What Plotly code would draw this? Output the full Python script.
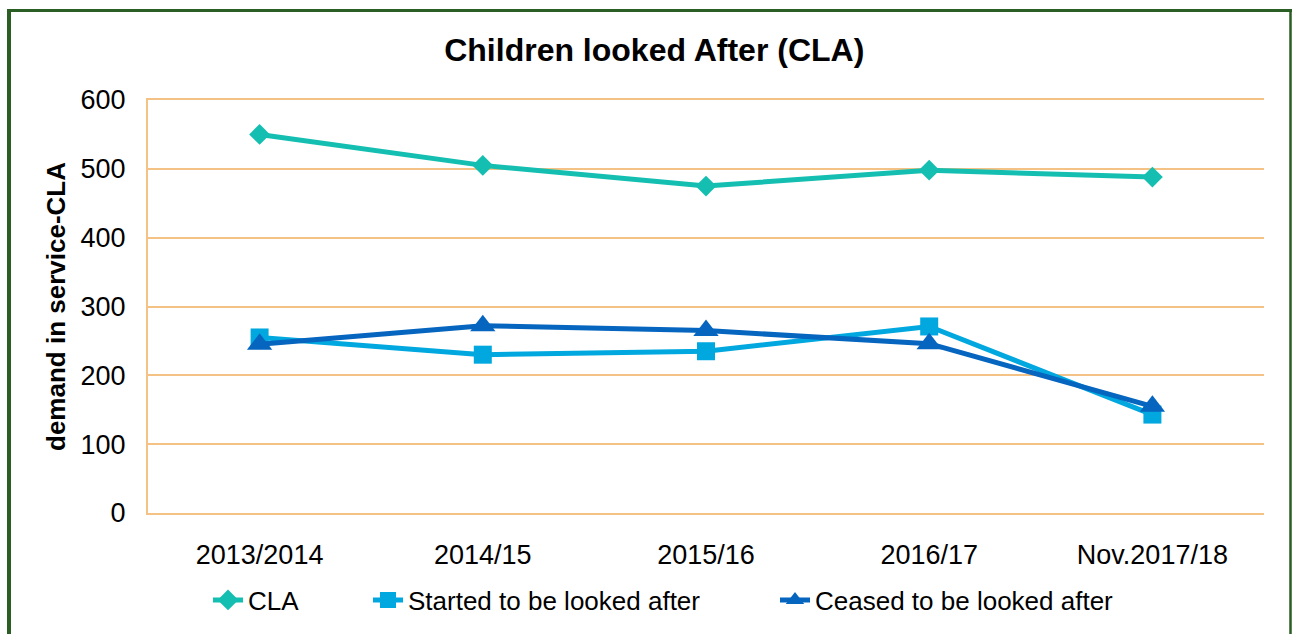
import plotly.graph_objects as go

categories = ["2013/2014", "2014/15", "2015/16", "2016/17", "Nov.2017/18"]
cla = [550, 505, 475, 498, 488]
started = [255, 230, 235, 271, 143]
ceased = [245, 272, 265, 246, 155]
y_ticks = [0, 100, 200, 300, 400, 500, 600]

W, H = 1293, 634
L, R, T, B = 148, 29, 100, 121
pw, ph = W - L - R, H - T - B

def px(x):
    return (x - L) / pw

def py(y):
    return (H - B - y) / ph

FONT = "Liberation Sans, Arial, sans-serif"
GRID = "#F4C285"

fig = go.Figure()
fig.add_trace(go.Scatter(x=categories, y=cla, name="CLA", mode="lines+markers",
                         line=dict(color="#14BFB1", width=5),
                         marker=dict(symbol="diamond", size=16, color="#14BFB1"),
                         legend="legend", showlegend=True))
fig.add_trace(go.Scatter(x=categories, y=started, name="Started to be looked after", mode="lines+markers",
                         line=dict(color="#00A8DF", width=5),
                         marker=dict(symbol="square", size=18, color="#00A8DF"),
                         legend="legend2", showlegend=True))
fig.add_trace(go.Scatter(x=categories, y=ceased, name="Ceased to be looked after", mode="lines+markers",
                         line=dict(color="#0565BF", width=5),
                         marker=dict(symbol="triangle-up", size=22, color="#0565BF"),
                         legend="legend3", showlegend=True))

leg_common = dict(orientation="h", yanchor="middle", y=py(600), xanchor="left",
                  font=dict(family=FONT, size=26, color="#000000"),
                  bgcolor="rgba(0,0,0,0)", borderwidth=0, visible=True)

fig.update_layout(
    width=W, height=H,
    showlegend=True,
    margin=dict(l=L, r=R, t=T, b=B, autoexpand=False),
    paper_bgcolor="white", plot_bgcolor="white",
    title=dict(text="<b>Children looked After (CLA)</b>", x=0.506, xanchor="center",
               y=1 - 50 / H, yanchor="middle",
               font=dict(family=FONT, size=32, color="#000000")),
    font=dict(family=FONT, color="#000000"),
    legend=dict(x=px(208), **leg_common),
    legend2=dict(x=px(368), **leg_common),
    legend3=dict(x=px(775), **leg_common),
    xaxis=dict(type="category", showgrid=False, showline=True, linecolor=GRID, linewidth=2,
               mirror=True, zeroline=False,
               ticks="", tickfont=dict(family=FONT, size=27, color="#000000"),
               ticklabelstandoff=17, range=[-0.5, 4.5]),
    yaxis=dict(range=[0, 600], tickvals=y_ticks, showgrid=True, gridcolor=GRID, gridwidth=2,
               showline=True, linecolor=GRID, linewidth=2, zeroline=False,
               ticks="", tickfont=dict(family=FONT, size=27, color="#000000"),
               ticklabelstandoff=15,
               title=dict(text="<b>demand in service-CLA</b>", standoff=7,
                          font=dict(family=FONT, size=26, color="#000000"))),
)

BORDER = "#2A5E24"
fig.add_shape(type="line", xref="paper", yref="paper", x0=px(9), x1=px(9), y0=py(10), y1=py(700),
              line=dict(color=BORDER, width=4))
fig.add_shape(type="line", xref="paper", yref="paper", x0=px(7), x1=px(1292), y0=py(10.5), y1=py(10.5),
              line=dict(color=BORDER, width=3))
fig.add_shape(type="line", xref="paper", yref="paper", x0=px(1290.5), x1=px(1290.5), y0=py(10), y1=py(700),
              line=dict(color=BORDER, width=2.5))

fig.write_html("out.html", config={"displayModeBar": False},
               post_script="document.body.style.margin='0';document.body.style.padding='0';")
